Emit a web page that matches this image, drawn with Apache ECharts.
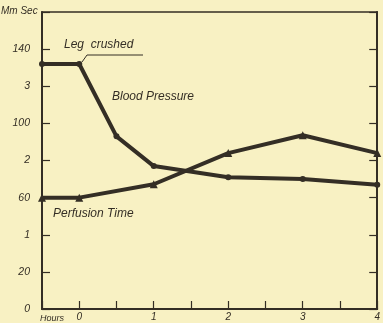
<!DOCTYPE html>
<html><head><meta charset="utf-8">
<script src="https://cdn.jsdelivr.net/npm/echarts@6/dist/echarts.min.js"></script>
<style>html,body{margin:0;padding:0;background:#f8f1c3}#c{width:383px;height:323px}</style>
</head><body><div id="c"></div><script>
const bpHours = [-0.5, 0, 0.5, 1, 2, 3, 4];
const bloodPressure = [132, 132, 93, 77, 71, 70, 67];
const ptHours = [-0.5, 0, 1, 2, 3, 4];
const perfusionTime = [1.5, 1.5, 1.68, 2.1, 2.34, 2.1];
const yTickValues = [0, 20, 40, 60, 80, 100, 120, 140, 160];
const yTickLabels = ['0', '20', '1', '60', '2', '100', '3', '140', ''];
const xTickValues = [0, 1, 2, 3, 4];
const xTickLabels = ['0', '1', '2', '3', '4'];

const ink = '#342e25';
const font = 'Liberation Sans';
const chart = echarts.init(document.getElementById('c'), null, {renderer: 'canvas'});
chart.setOption({
  backgroundColor: '#f8f1c3',
  animation: false,
  grid: {left: 42, right: 2, top: 12, bottom: 14, show: true, borderColor: ink, borderWidth: 1.5, backgroundColor: 'transparent'},
  xAxis: {
    type: 'value', min: -0.5, max: 4, interval: 0.5,
    axisLine: {onZero: false, lineStyle: {color: ink, width: 2}},
    axisTick: {inside: true, length: 8, lineStyle: {color: ink, width: 1.2}},
    splitLine: {show: false},
    axisLabel: {
      margin: 3, color: ink, fontSize: 10, fontStyle: 'italic', fontFamily: font,
      formatter: v => { const i = xTickValues.indexOf(v); return i >= 0 ? xTickLabels[i] : ''; }
    }
  },
  yAxis: [{
    type: 'value', min: 0, max: 160, interval: 20, position: 'left',
    axisLine: {show: true, onZero: false, lineStyle: {color: ink, width: 2}},
    axisTick: {show: true, inside: true, length: 8, lineStyle: {color: ink, width: 1.2}},
    splitLine: {show: false},
    axisLabel: {
      margin: 12, color: ink, fontSize: 10.5, fontStyle: 'italic', fontFamily: font,
      formatter: v => { const i = yTickValues.indexOf(v); return i >= 0 ? yTickLabels[i] : ''; }
    }
  }, {
    type: 'value', min: 0, max: 4, interval: 0.5, position: 'right',
    axisLine: {show: true, onZero: false, lineStyle: {color: ink, width: 2}},
    axisTick: {show: true, inside: true, length: 8, lineStyle: {color: ink, width: 1.2}},
    splitLine: {show: false},
    axisLabel: {show: false}
  }],
  series: [{
    name: 'Blood Pressure', type: 'line', yAxisIndex: 0,
    data: bpHours.map((h, i) => [h, bloodPressure[i]]),
    symbol: 'circle', symbolSize: 6,
    lineStyle: {color: ink, width: 4}, itemStyle: {color: ink}
  }, {
    name: 'Perfusion Time', type: 'line', yAxisIndex: 1,
    data: ptHours.map((h, i) => [h, perfusionTime[i]]),
    symbol: 'triangle', symbolSize: 8,
    lineStyle: {color: ink, width: 4}, itemStyle: {color: ink}
  }],
  graphic: [
    {type: 'text', left: 1, top: 6, style: {text: 'Mm Sec', fill: ink, font: 'italic 10px "Liberation Sans"'}},
    {type: 'text', left: 40, top: 314, style: {text: 'Hours', fill: ink, font: 'italic 9px "Liberation Sans"'}},
    {type: 'text', left: 64, top: 39, style: {text: 'Leg  crushed', fill: ink, font: 'italic 12px "Liberation Sans"'}},
    {type: 'polyline', shape: {points: [[82, 62], [87, 55], [143, 55]]}, style: {stroke: ink, lineWidth: 1, fill: null}},
    {type: 'text', left: 112, top: 91, style: {text: 'Blood Pressure', fill: ink, font: 'italic 12px "Liberation Sans"'}},
    {type: 'text', left: 53, top: 208, style: {text: 'Perfusion Time', fill: ink, font: 'italic 12px "Liberation Sans"'}}
  ]
});
</script></body></html>
